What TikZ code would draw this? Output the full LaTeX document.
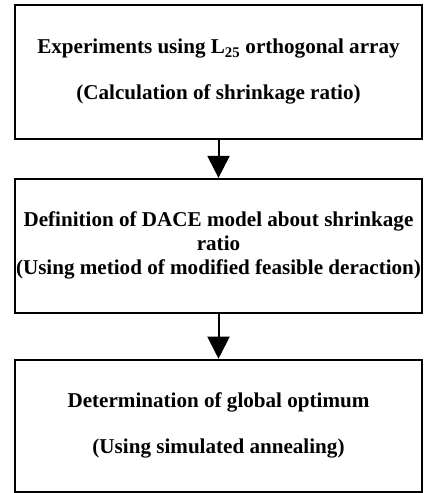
\documentclass[tikz,border=0pt]{standalone}
\usepackage{fontspec}
\setmainfont{Liberation Serif}
\usetikzlibrary{positioning,arrows.meta}

\tikzset{
  stage/.style={draw, line width=1.8pt, minimum width=407pt, minimum height=134pt,
    inner sep=0pt, align=center, font=\bfseries\fontsize{21.1}{24}\selectfont},
  flow/.style={-{Triangle[width=22pt,length=22pt]}, line width=2pt}
}

\begin{document}
\begin{tikzpicture}[x=1pt,y=1pt]
    \useasboundingbox (0,0) rectangle (425,-493);
    % three stages, top to bottom
    \node[stage] (exper) at (218.5,-72) {Experiments using L\textsubscript{25} orthogonal array\\[22pt](Calculation of shrinkage ratio)};
    \node[stage, below=38pt of exper] (dace) {Definition of DACE model about shrinkage\\ratio\\(Using metiod of modified feasible deraction)};
    \node[stage, below=45pt of dace, minimum height=132pt] (optim) {Determination of global optimum\\[22pt](Using simulated annealing)};

    \draw[flow] (exper) -- (dace);
    \draw[flow] (dace) -- (optim);
\end{tikzpicture}
\end{document}
